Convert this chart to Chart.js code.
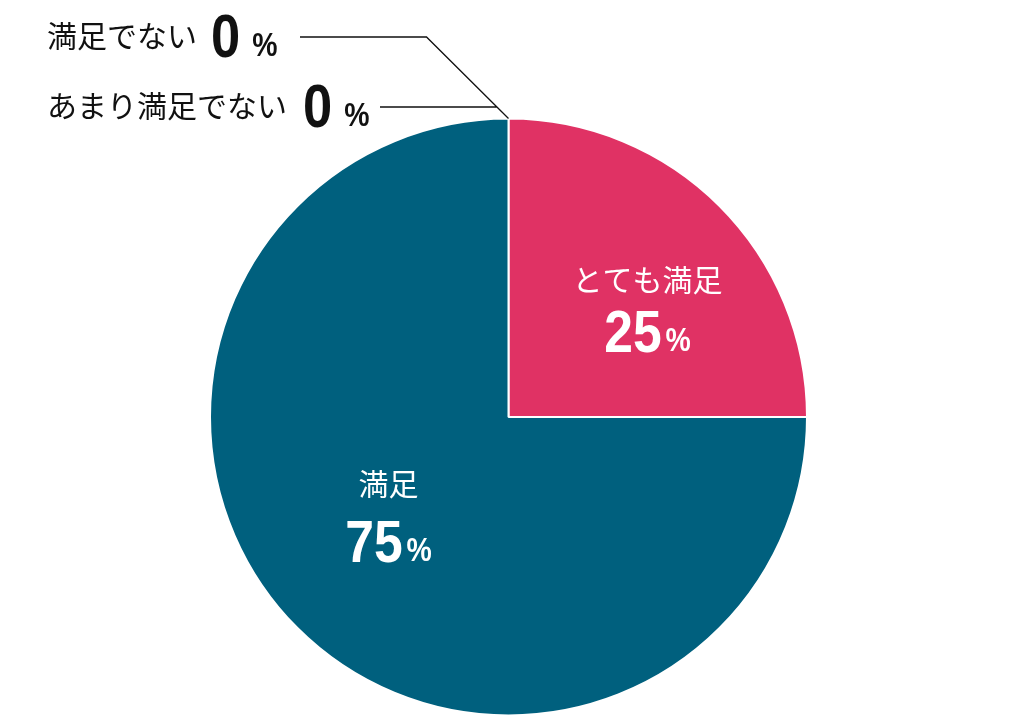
<!DOCTYPE html>
<html>
<head>
<meta charset="utf-8">
<script src="https://cdn.jsdelivr.net/npm/chart.js@4"></script>
<style>
  body { margin: 0; background: #fff; }
  #wrap { width: 1018px; height: 728px; }
</style>
</head>
<body>
<div id="wrap"><canvas id="pie" width="1018" height="728"></canvas></div>
<script>
// data
const labels = ['とても満足', '満足', 'あまり満足でない', '満足でない'];
const values = [25, 75, 0, 0];
const colors = ['#E03264', '#00607E', '#888888', '#888888'];

const JP = '"Noto Sans CJK JP", "Noto Sans", sans-serif';
const NUM = '"Liberation Sans", Arial, sans-serif';
const SQUEEZE = 0.86;

// width of "NN %" in condensed bold
function numWidth(ctx, num, size, pctSize, gap) {
  ctx.font = 'bold ' + size + 'px ' + NUM;
  const w1 = ctx.measureText(num).width * SQUEEZE;
  ctx.font = 'bold ' + pctSize + 'px ' + NUM;
  const w2 = ctx.measureText('%').width * SQUEEZE;
  return w1 + gap + w2;
}
function drawNum(ctx, num, x, base, size, pctSize, gap) {
  ctx.save();
  ctx.textBaseline = 'alphabetic';
  ctx.textAlign = 'left';
  ctx.font = 'bold ' + size + 'px ' + NUM;
  const w1 = ctx.measureText(num).width * SQUEEZE;
  ctx.translate(x, base);
  ctx.scale(SQUEEZE, 1);
  ctx.fillText(num, 0, 0);
  ctx.restore();
  ctx.save();
  ctx.textBaseline = 'alphabetic';
  ctx.textAlign = 'left';
  ctx.font = 'bold ' + pctSize + 'px ' + NUM;
  ctx.translate(x + w1 + gap, base - 1);
  ctx.scale(SQUEEZE, 1);
  ctx.fillText('%', 0, 0);
  ctx.restore();
}

const labelPlugin = {
  id: 'pieLabels',
  afterDraw(chart) {
    const ctx = chart.ctx;
    const arcs = chart.getDatasetMeta(0).data;
    const cx = arcs[0].x, cy = arcs[0].y;

    // inside labels
    const inside = [[0, 139, -137, -65], [1, -120, 67, 145]];
    inside.forEach(([i, dx, dyText, dyBase]) => {
      ctx.save();
      ctx.fillStyle = '#fff';
      ctx.font = '30px ' + JP;
      ctx.textAlign = 'center';
      ctx.textBaseline = 'middle';
      ctx.fillText(labels[i], cx + dx, cy + dyText);
      const w = numWidth(ctx, String(values[i]), 60, 33, 4);
      drawNum(ctx, String(values[i]), cx + dx - w / 2, cy + dyBase, 60, 33, 4);
      ctx.restore();
    });

    // zero slices: leader lines to the top of the pie
    const a = arcs[3];
    const ax = a.x + Math.cos(a.startAngle) * a.outerRadius;
    const ay = a.y + Math.sin(a.startAngle) * a.outerRadius;
    const ex = ax - 82, ey = 37;
    const y2 = 107;
    const x2 = ex + (ax - ex) * (y2 - ey) / (ay - ey);
    ctx.save();
    ctx.strokeStyle = '#111';
    ctx.lineWidth = 1.3;
    ctx.beginPath();
    ctx.moveTo(300, ey);
    ctx.lineTo(ex, ey);
    ctx.lineTo(ax, ay);
    ctx.moveTo(380, y2);
    ctx.lineTo(x2, y2);
    ctx.stroke();

    ctx.fillStyle = '#111';
    ctx.textAlign = 'left';
    ctx.textBaseline = 'middle';
    ctx.font = '30px ' + JP;
    ctx.fillText(labels[3], 47, 36);
    let w = ctx.measureText(labels[3]).width;
    drawNum(ctx, String(values[3]), 47 + w + 14, 57, 61, 33, 12);
    ctx.font = '30px ' + JP;
    ctx.fillText(labels[2], 47, 106);
    w = ctx.measureText(labels[2]).width;
    drawNum(ctx, String(values[2]), 47 + w + 16, 127, 61, 33, 12);
    ctx.restore();
  }
};

new Chart(document.getElementById('pie'), {
  type: 'pie',
  data: {
    labels: labels,
    datasets: [{
      data: values,
      backgroundColor: colors,
      borderColor: '#ffffff',
      borderWidth: [2, 2, 0, 0]
    }]
  },
  options: {
    responsive: false,
    animation: false,
    layout: { padding: { left: 209, right: 210, top: 117, bottom: 11 } },
    plugins: {
      legend: { display: false },
      tooltip: { enabled: false }
    }
  },
  plugins: [labelPlugin]
});
</script>
</body>
</html>
